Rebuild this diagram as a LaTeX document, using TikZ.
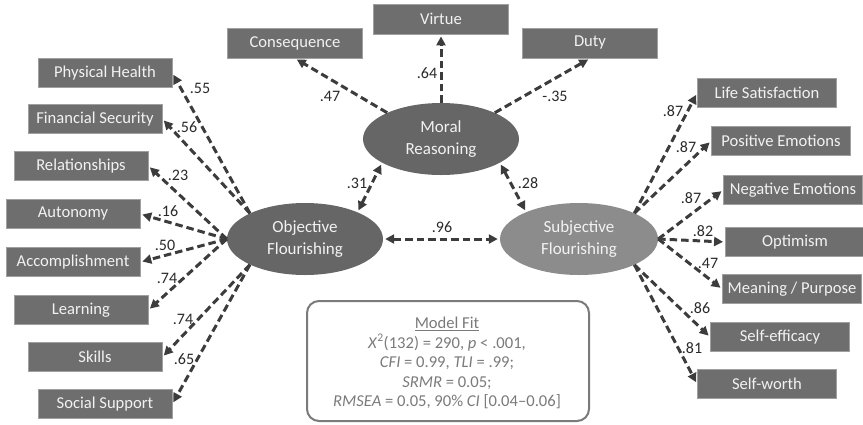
\documentclass[tikz,border=0pt]{standalone}
\usepackage{fontspec}
\setmainfont{Carlito}
\usetikzlibrary{arrows.meta,shapes.geometric}
\definecolor{boxfill}{HTML}{6E6E6E}
\definecolor{boxline}{HTML}{A0A0A0}
\definecolor{ellA}{HTML}{666666}
\definecolor{ellB}{HTML}{8C8C8C}
\definecolor{arr}{HTML}{3C3C3C}
\definecolor{fittext}{HTML}{7A7A7A}
\definecolor{txtw}{HTML}{F2F2F2}
\definecolor{coefc}{HTML}{2A2A2A}
\begin{document}
\begin{tikzpicture}[x=1pt,y=-1pt,
  ind/.style={draw=boxline, line width=0.8pt, fill=boxfill, text=txtw,
    font=\fontsize{16.6}{18}\selectfont, inner sep=0pt, minimum height=29pt},
  lind/.style={ind, minimum width=134pt},
  rind/.style={ind, minimum width=139pt},
  tind/.style={ind, minimum width=135pt, minimum height=30pt},
  lat/.style={ellipse, draw=none, inner sep=0pt, minimum width=156pt,
    minimum height=72pt, text=txtw, align=center,
    font=\fontsize{17}{21.5}\selectfont},
  ld/.style={draw=arr, line width=3pt, dash pattern=on 7.5pt off 4pt,
    -{Triangle[length=9pt,width=9pt]}, shorten >=2pt},
  cov/.style={draw=arr, line width=3pt, dash pattern=on 7.5pt off 4pt,
    {Triangle[length=9pt,width=9pt]}-{Triangle[length=9pt,width=9pt]},
    shorten >=2pt, shorten <=2pt},
  coef/.style={font=\fontsize{16}{18}\selectfont, text=coefc, inner sep=0pt},
]
\useasboundingbox (0,0) rectangle (863,424);

% latent variables
\node[lat, fill=ellA] (moral) at (441,139) {Moral\\Reasoning};
\node[lat, fill=ellA] (obj) at (305,239) {Objective\\Flourishing};
\node[lat, fill=ellB, minimum width=158pt] (subj) at (579,239) {Subjective\\Flourishing};

% top indicators
\node[tind] (cons) at (295,43) {Consequence};
\node[tind] (virt) at (441,19) {Virtue};
\node[tind] (duty) at (590,43) {Duty};

% left indicators
\node[lind] (ph) at (105,73) {Physical Health};
\node[lind] (fs) at (95,119) {Financial Security};
\node[lind] (rel) at (81,166) {Relationships};
\node[lind] (aut) at (73,214) {Autonomy};
\node[lind] (acc) at (73,262) {Accomplishment};
\node[lind] (lea) at (81,310) {Learning};
\node[lind] (ski) at (95,357) {Skills};
\node[lind] (soc) at (105,404) {Social Support};

% right indicators
\node[rind] (ls) at (767,93) {Life Satisfaction};
\node[rind] (pe) at (781,141) {Positive Emotions};
\node[rind] (ne) at (793,190) {Negative Emotions};
\node[rind] (opt) at (795,242) {Optimism};
\node[rind] (mp) at (792,289) {Meaning / Purpose};
\node[rind] (se) at (780,337) {Self-efficacy};
\node[rind] (sw) at (767,384) {Self-worth};

% moral reasoning loadings
\draw[ld] (moral.154) -- (cons.south);
\draw[ld] (moral.north) -- (virt.south);
\draw[ld] (moral.26) -- (duty.south);

% objective loadings
\draw[ld] (obj.155) -- (ph.east);
\draw[ld] (obj.155) -- (fs.east);
\draw[ld] (obj.west) -- (rel.east);
\draw[ld] (obj.west) -- (aut.east);
\draw[ld] (obj.west) -- (acc.east);
\draw[ld] (obj.west) -- (lea.east);
\draw[ld] (obj.205) -- (ski.east);
\draw[ld] (obj.205) -- (soc.east);

% subjective loadings
\draw[ld] (subj.25) -- (ls.west);
\draw[ld] (subj.25) -- (pe.west);
\draw[ld] (subj.east) -- (ne.west);
\draw[ld] (subj.east) -- (opt.west);
\draw[ld] (subj.east) -- (mp.west);
\draw[ld] (subj.335) -- (se.west);
\draw[ld] (subj.335) -- (sw.west);

% correlations
\draw[cov] (obj.27) -- (moral.202);
\draw[cov] (moral.338) -- (subj.153);
\draw[cov] (obj.east) -- (subj.west);

% coefficients
\node[coef] (c1) at (330,96) {.47};
\node[coef] (c2) at (427,73) {.64};
\node[coef] (c3) at (555,96) {-.35};
\node[coef] (c4) at (200,88) {.55};
\node[coef] (c5) at (187,127) {.56};
\node[coef] (c6) at (178,175) {.23};
\node[coef] (c7) at (168,211) {.16};
\node[coef] (c8) at (165,245) {.50};
\node[coef] (c9) at (167,278) {.74};
\node[coef] (c10) at (183,319) {.74};
\node[coef] (c11) at (184,359) {.65};
\node[coef] (c12) at (673,111) {.87};
\node[coef] (c13) at (686,147) {.87};
\node[coef] (c14) at (691,198) {.87};
\node[coef] (c15) at (703,231) {.82};
\node[coef] (c16) at (708,263) {.47};
\node[coef] (c17) at (700,308) {.86};
\node[coef] (c18) at (692,348) {.81};
\node[coef] (c19) at (357,183) {.31};
\node[coef] (c20) at (528,183) {.28};
\node[coef] (c21) at (442,227) {.96};

% model fit
\node[draw=fittext, line width=2pt, rounded corners=12pt, minimum width=282pt,
  minimum height=120pt, inner sep=0pt] (fit) at (448,361) {};
\node[text=fittext, align=center, font=\fontsize{16.6}{19.6}\selectfont, inner sep=0pt]
  (fittxt) at (447,363) {\underline{Model Fit}\\
  \textit{X}\textsuperscript{2}(132) = 290, \textit{p} < .001,\\
  \textit{CFI} = 0.99, \textit{TLI} = .99;\\
  \textit{SRMR} = 0.05;\\
  \textit{RMSEA} = 0.05, 90\% \textit{CI} [0.04–0.06]};
\end{tikzpicture}
\end{document}
